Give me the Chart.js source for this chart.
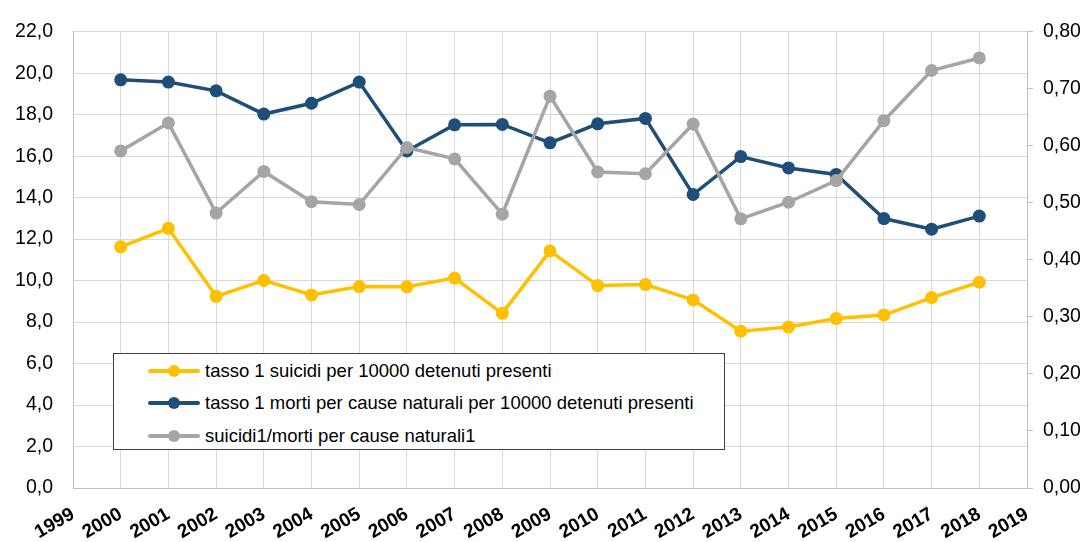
<!DOCTYPE html>
<html>
<head>
<meta charset="utf-8">
<script src="https://cdn.jsdelivr.net/npm/chart.js@4.4.1/dist/chart.umd.min.js"></script>
<style>
  html, body { margin: 0; padding: 0; background: #fff; }
  #wrap { position: relative; width: 1089px; height: 542px; }
  #legend {
    position: absolute; left: 113px; top: 353px; width: 610px; height: 95px;
    border: 1px solid #404040; background: #fff; box-sizing: content-box;
    font-family: "Liberation Sans", Arial, sans-serif; font-size: 18.5px; color: #000;
  }
  .item { position: absolute; left: 34px; height: 20px; display: flex; align-items: center; white-space: nowrap; }
  .sample { position: relative; width: 52px; height: 20px; margin-right: 5px; flex: none; }
  .sample .ln { position: absolute; left: 0; right: 0; top: 8px; height: 4px; border-radius: 2px; }
  .sample .pt { position: absolute; left: 20px; top: 4px; width: 12px; height: 12px; border-radius: 50%; }
</style>
</head>
<body>
<div id="wrap">
  <canvas id="c" width="1089" height="542"></canvas>
  <div id="legend"></div>
</div>
<script>
const years = [2000, 2001, 2002, 2003, 2004, 2005, 2006, 2007, 2008, 2009,
               2010, 2011, 2012, 2013, 2014, 2015, 2016, 2017, 2018];
const suicideRate = [11.63, 12.52, 9.24, 10.01, 9.31, 9.71, 9.70, 10.12, 8.42, 11.43,
                     9.76, 9.81, 9.07, 7.56, 7.76, 8.17, 8.34, 9.18, 9.92];
const naturalDeathRate = [19.68, 19.57, 19.15, 18.03, 18.55, 19.57, 16.25, 17.51, 17.53, 16.64,
                          17.56, 17.82, 14.15, 15.98, 15.43, 15.12, 12.99, 12.48, 13.11];
const ratio = [0.591, 0.640, 0.482, 0.555, 0.502, 0.497, 0.597, 0.577, 0.480, 0.687,
               0.554, 0.551, 0.638, 0.472, 0.501, 0.539, 0.644, 0.732, 0.754];
const seriesNames = [
  "tasso 1 suicidi per 10000 detenuti presenti",
  "tasso 1 morti per cause naturali per 10000 detenuti presenti",
  "suicidi1/morti per cause naturali1"
];
const seriesColors = ["#FFC000", "#1F4E79", "#A5A5A5"];
const xTickYears = [1999, 2000, 2001, 2002, 2003, 2004, 2005, 2006, 2007, 2008, 2009,
                    2010, 2011, 2012, 2013, 2014, 2015, 2016, 2017, 2018, 2019];

const toPts = arr => arr.map((v, i) => ({ x: years[i], y: v }));

function ds(i, data, axis, order) {
  return {
    label: seriesNames[i],
    data: toPts(data),
    yAxisID: axis,
    order: order,
    borderColor: seriesColors[i],
    backgroundColor: seriesColors[i],
    pointBackgroundColor: seriesColors[i],
    pointBorderColor: seriesColors[i],
    pointBorderWidth: 0,
    pointRadius: 6.5,
    pointHoverRadius: 6.5,
    borderWidth: 3.5,
    tension: 0,
    fill: false
  };
}

const fontTick = { family: "'Liberation Sans', Arial, sans-serif", size: 19.5 };
const fontX = { family: "'Liberation Sans', Arial, sans-serif", size: 19, weight: 'bold' };

const chart = new Chart(document.getElementById('c'), {
  type: 'line',
  data: {
    datasets: [
      ds(0, suicideRate, 'y', 3),
      ds(1, naturalDeathRate, 'y', 2),
      ds(2, ratio, 'y1', 1)
    ]
  },
  options: {
    responsive: false,
    animation: false,
    devicePixelRatio: 1,
    layout: { padding: { top: 23, left: 0, right: 0, bottom: 0 } },
    plugins: { legend: { display: false }, tooltip: { enabled: false } },
    scales: {
      x: {
        type: 'linear',
        min: 1999, max: 2019,
        afterFit: s => { s.height = 54; },
        afterBuildTicks: s => { s.ticks = xTickYears.map(v => ({ value: v })); },
        grid: { color: '#D9D9D9', lineWidth: 1, drawTicks: false },
        border: { color: '#BFBFBF', width: 1 },
        ticks: {
          autoSkip: false, minRotation: 30, maxRotation: 30,
          padding: 15, color: '#000', font: fontX,
          callback: v => String(v)
        }
      },
      y: {
        position: 'left',
        min: 0, max: 22,
        afterFit: s => { s.width = 73; },
        grid: { color: '#D9D9D9', lineWidth: 1, drawTicks: false },
        border: { color: '#BFBFBF', width: 1 },
        ticks: {
          stepSize: 2, padding: 20, color: '#000', font: fontTick,
          callback: v => v.toFixed(1).replace('.', ',')
        }
      },
      y1: {
        position: 'right',
        min: 0, max: 0.8,
        afterFit: s => { s.width = 62; },
        grid: { drawOnChartArea: false, drawTicks: true, tickLength: 6, tickColor: '#BFBFBF', color: '#BFBFBF' },
        border: { color: '#BFBFBF', width: 1 },
        ticks: {
          stepSize: 0.1, padding: 10, color: '#000', font: fontTick,
          callback: v => v.toFixed(2).replace('.', ',')
        }
      }
    }
  }
});

// HTML legend built from the chart's datasets
const leg = document.getElementById('legend');
const rowTops = [7, 39, 72];
chart.data.datasets.forEach((d, i) => {
  const item = document.createElement('div');
  item.className = 'item';
  item.style.top = rowTops[i] + 'px';
  const s = document.createElement('div');
  s.className = 'sample';
  const ln = document.createElement('div'); ln.className = 'ln'; ln.style.background = d.borderColor;
  const pt = document.createElement('div'); pt.className = 'pt'; pt.style.background = d.borderColor;
  s.appendChild(ln); s.appendChild(pt);
  const tx = document.createElement('span'); tx.textContent = d.label;
  item.appendChild(s); item.appendChild(tx);
  leg.appendChild(item);
});
</script>
</body>
</html>
